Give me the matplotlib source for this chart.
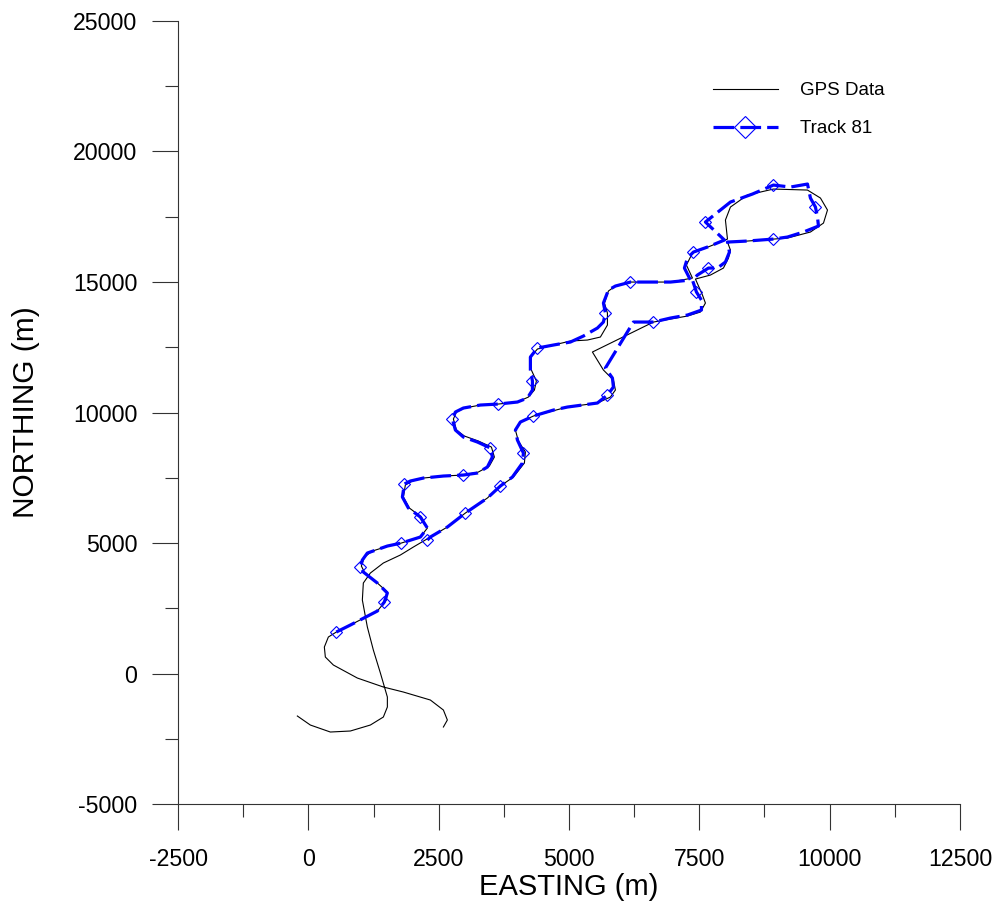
import matplotlib
matplotlib.use('Agg')
import matplotlib.pyplot as plt

# GPS record (easting, northing in m)
gps_e = [2591, 2667, 2591, 2341, 1823, 1439, 940, 480, 326, 307, 384, 537,
         806, 1324, 1497, 1516, 1324, 1075, 1017, 1075, 1228, 1535, 1785, 2149,
         2284, 2168, 1938, 1823, 1861, 1996, 2207, 2591, 2974, 3262, 3473, 3569,
         3512, 3262, 2994, 2840, 2783, 2840, 2994, 3301, 3646, 4011, 4222, 4337,
         4375, 4279, 4260, 4395, 4702, 5028, 5354, 5603, 5738, 5738, 5680, 5757,
         5891, 6179, 6947, 7369, 7254, 7369, 7714, 8041, 8002, 8098, 8424, 8923,
         9576, 9825, 9960, 9883, 9633, 9192, 8424, 8041, 8098, 8060, 7964, 7714,
         7427, 7561, 7618, 7522, 7273, 6947, 6621, 5450, 5661, 5853, 5891, 5795,
         5546, 4970, 4318, 4068, 3972, 4030, 4164, 4145, 3934, 3684, 3435, 3013,
         2667, 2341, 2207, 2015, 1765, 1439, 1190, 1055, 1036, 1132, 1247, 1382,
         1478, 1516, 1516, 1439, 1190, 806, 422, 38, -211]
gps_n = [-2040, -1772, -1390, -1007, -701, -509, -165, 333, 639, 1022, 1405, 1596,
         1864, 2400, 2821, 3127, 3472, 3893, 4123, 4467, 4697, 4888, 5003, 5233,
         5577, 5999, 6343, 6764, 7224, 7377, 7491, 7568, 7606, 7721, 7951, 8295,
         8678, 8908, 9099, 9329, 9750, 10018, 10171, 10286, 10324, 10401, 10592, 10860,
         11205, 11626, 12123, 12430, 12583, 12736, 12774, 12889, 13348, 13808, 14190, 14650,
         14841, 14994, 14994, 15147, 15645, 16105, 16372, 16640, 17368, 17865, 18325, 18554,
         18516, 18210, 17751, 17252, 16909, 16679, 16564, 16525, 16219, 15912, 15530, 15262,
         15109, 14497, 14190, 13846, 13693, 13578, 13463, 12315, 11626, 11243, 10860, 10592,
         10363, 10209, 9865, 9635, 9329, 8908, 8487, 8066, 7530, 7185, 6726, 6152,
         5616, 5233, 5080, 4850, 4544, 4238, 3855, 3472, 2821, 1788, 907, 27,
         -624, -892, -1275, -1658, -1964, -2193, -2232, -1964, -1619]

# Track 81 (easting, northing in m)
track_e = [537, 806, 1324, 1458, 1516, 1324, 1055, 998, 1036, 1132, 1516, 1785,
           2149, 2284, 2149, 1919, 1804, 1842, 1957, 2207, 2591, 2974, 3243, 3435,
           3531, 3493, 3243, 2974, 2821, 2763, 2821, 2974, 3301, 3646, 4011, 4203,
           4299, 4299, 4260, 4260, 4395, 4702, 5028, 5277, 5546, 5661, 5699, 5661,
           5757, 5891, 6179, 6429, 6947, 7331, 7215, 7273, 7388, 7657, 7983, 7618,
           8098, 8520, 8923, 9250, 9576, 9633, 9729, 9768, 9787, 9499, 9192, 8923,
           8424, 8041, 8079, 8002, 7849, 7676, 7465, 7369, 7446, 7542, 7542, 7273,
           6947, 6621, 6237, 5699, 5834, 5853, 5738, 5546, 4970, 4702, 4318, 4068,
           3972, 4011, 4126, 4107, 3915, 3684, 3435, 3013, 2667, 2341, 2284]
track_n = [1596, 1864, 2400, 2745, 3089, 3472, 3893, 4085, 4352, 4620, 4888, 5003,
           5233, 5577, 5999, 6343, 6764, 7262, 7377, 7491, 7568, 7606, 7683, 7913,
           8295, 8640, 8870, 9061, 9329, 9750, 10018, 10171, 10286, 10324, 10401, 10554,
           10860, 11205, 11626, 12123, 12468, 12583, 12698, 12927, 13233, 13463, 13808, 14190,
           14688, 14841, 14994, 14994, 14994, 15071, 15530, 15912, 16142, 16334, 16602, 17292,
           18057, 18363, 18707, 18631, 18746, 18210, 17865, 17482, 17138, 16909, 16717, 16640,
           16564, 16525, 16142, 15760, 15530, 15530, 15262, 15071, 14612, 14305, 13922, 13731,
           13616, 13463, 13463, 11702, 11319, 10975, 10669, 10363, 10209, 10094, 9865, 9635,
           9329, 8946, 8448, 8066, 7530, 7185, 6726, 6152, 5616, 5233, 5118]
# points of the track that carry a diamond symbol
track_marks = [0, 3, 7, 11, 14, 17, 21, 25, 29, 33, 37, 40, 46, 50, 56, 59, 62,
               66, 71, 77, 80, 85, 90, 94, 98, 101, 103, 106]

plt.rcParams['font.family'] = ['Liberation Sans', 'DejaVu Sans']
plt.rcParams['axes.unicode_minus'] = False

fig = plt.figure(figsize=(9.98, 9.07), dpi=100)
ax = fig.add_axes([0.1784, 0.1132, 0.7834, 0.864])

ax.plot(gps_e, gps_n, color='black', lw=0.8, label='GPS Data')
ax.plot(track_e, track_n, color='#0000ff', lw=2.3, linestyle=(0, (6.5, 1.9)),
        marker='D', markevery=track_marks, markersize=6.5, markerfacecolor='none',
        markeredgecolor='#0000ff', markeredgewidth=0.8, label='Track 81')

ax.set_xlim(-2500, 12500)
ax.set_ylim(-5000, 25000)
ax.set_xticks(range(-2500, 12501, 2500))
ax.set_xticks(range(-2500, 12501, 1250), minor=True)
ax.set_yticks(range(-5000, 25001, 5000))
ax.set_yticks(range(-5000, 25001, 2500), minor=True)
for s in ('top', 'right'):
    ax.spines[s].set_visible(False)
for s in ('left', 'bottom'):
    ax.spines[s].set_linewidth(0.8)
    ax.spines[s].set_color('#333333')
ax.tick_params(which='major', direction='out', length=18.7, width=0.8,
               color='#333333', labelsize=16.7, pad=10.5)
ax.tick_params(axis='x', which='major', pad=12.5)
ax.tick_params(which='minor', direction='out', length=9.4, width=0.8, color='#333333')

ax.set_xlabel('EASTING (m)', fontsize=21, labelpad=2)
ax.set_ylabel('NORTHING (m)', fontsize=21.5, labelpad=24)

ax.legend(loc='upper left', bbox_to_anchor=(0.684, 0.9215), frameon=False,
          fontsize=13.5, borderpad=0, borderaxespad=0, handlelength=3.47,
          handletextpad=1.2, labelspacing=1.12, markerscale=1.8)

fig.savefig('out.png', dpi=100)
